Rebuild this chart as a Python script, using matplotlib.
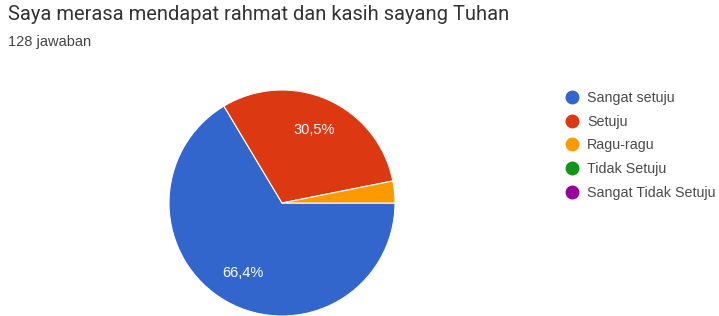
import matplotlib
matplotlib.use("Agg")
import matplotlib.pyplot as plt
from matplotlib.lines import Line2D

categories = ["Sangat setuju", "Setuju", "Ragu-ragu", "Tidak Setuju", "Sangat Tidak Setuju"]
counts = [85, 39, 4, 0, 0]
colors = ["#3366cc", "#dc3912", "#ff9900", "#109618", "#990099"]
title = "Saya merasa mendapat rahmat dan kasih sayang Tuhan"
subtitle = "128 jawaban"

W, H = 719, 316
fig = plt.figure(figsize=(W / 100, H / 100), dpi=100)
plt.rcParams['font.family'] = ['Roboto', 'DejaVu Sans']

fig.text(8 / W, 1 - 15 / H, title, fontsize=14.5, color="#333333", va="center", ha="left")
fig.text(8 / W, 1 - 42 / H, subtitle, fontsize=10.5, color="#444444", va="center", ha="left",
         family=["Liberation Sans", "DejaVu Sans"])

cx, cy, r = 282, 203, 113
ax = fig.add_axes([(cx - r) / W, (H - cy - r) / H, 2 * r / W, 2 * r / H])
vals = [c for c in counts if c > 0]
cols = [colors[i] for i, c in enumerate(counts) if c > 0]

def fmt(p):
    return f"{p:.1f}%".replace(".", ",") if p > 5 else ""

wedges, texts, autotexts = ax.pie(vals, colors=cols, startangle=0, counterclock=False,
                                  radius=1, autopct=fmt, pctdistance=0.71,
                                  wedgeprops=dict(edgecolor="white", linewidth=0.8),
                                  textprops=dict(color="white", fontsize=10.5,
                                                 family=["Liberation Sans", "DejaVu Sans"]))
ax.set_xlim(-1, 1)
ax.set_ylim(-1, 1)
ax.set_aspect("equal")
ax.axis("off")

handles = [Line2D([0], [0], marker="o", linestyle="none", markersize=9,
                  markerfacecolor=c, markeredgecolor=c) for c in colors]
fig.legend(handles, categories, loc="upper left", bbox_to_anchor=(563 / W, 1 - 91 / H),
           frameon=False, prop=dict(family=["Liberation Sans", "DejaVu Sans"], size=10.3),
           labelspacing=0.68, handletextpad=0.5,
           handlelength=1.2, borderaxespad=0, borderpad=0, labelcolor="#4a4a4a")

fig.savefig("out.png", dpi=100)
